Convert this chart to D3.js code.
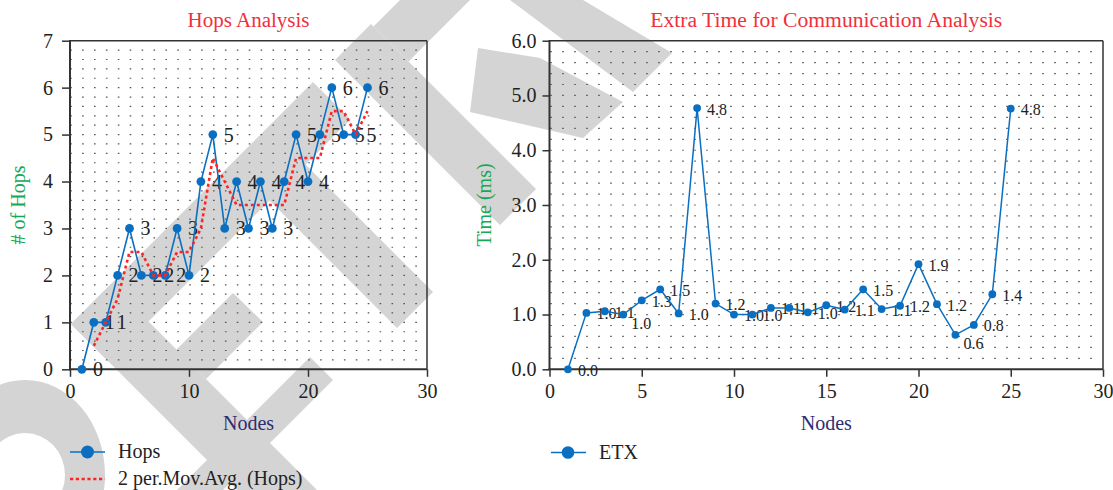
<!DOCTYPE html>
<html>
<head>
<meta charset="utf-8">
<script src="https://cdn.jsdelivr.net/npm/d3@7"></script>
<style>
  body { margin: 0; background: #fff; }
  svg { display: block; font-family: "Liberation Serif", "Times New Roman", serif; }
</style>
</head>
<body>
<svg id="chart" width="1113" height="490"></svg>
<script>
// --- data ---
const nodes = [1, 2, 3, 4, 5, 6, 7, 8, 9, 10, 11, 12, 13, 14, 15, 16, 17, 18, 19, 20, 21, 22, 23, 24, 25];
const hops = [0, 1, 1, 2, 3, 2, 2, 2, 3, 2, 4, 5, 3, 4, 3, 4, 3, 4, 5, 4, 5, 6, 5, 5, 6];
const movAvgNodes = [2, 3, 4, 5, 6, 7, 8, 9, 10, 11, 12, 13, 14, 15, 16, 17, 18, 19, 20, 21, 22, 23, 24, 25];
const movAvg = [0.5, 1, 1.5, 2.5, 2.5, 2, 2, 2.5, 2.5, 3, 4.5, 4, 3.5, 3.5, 3.5, 3.5, 3.5, 4.5, 4.5, 4.5, 5.5, 5.5, 5, 5.5];
const etx = [0.0, 1.03, 1.06, 1.0, 1.26, 1.46, 1.02, 4.77, 1.2, 1.0, 1.0, 1.12, 1.12, 1.04, 1.17, 1.09, 1.46, 1.1, 1.16, 1.92, 1.19, 0.63, 0.81, 1.37, 4.76];
const etxLabelsBelow = [4, 22]; // nodes whose value label sits under the point

const hopsXTicks = [0, 10, 20, 30];
const hopsYTicks = [0, 1, 2, 3, 4, 5, 6, 7];
const etxXTicks = [0, 5, 10, 15, 20, 25, 30];
const etxYTicks = [0, 1, 2, 3, 4, 5, 6];

const CONFIG = {
  blue: "#0b6fc1",
  red: "#ff2424",
  titleColor: "#f0303c",
  yLabelColor: "#15a957",
  xLabelColor: "#2e2d72",
  axisColor: "#333",
  dotColor: "#555",
  wmColor: "#d4d4d4",
  top: 40.7,
  bottom: 369.3
};

const svg = d3.select("#chart");

// --- watermark in the background ---
// strokes are 45deg bands, given in rotated coords u = x + y, v = x - y
function band(u0, u1, v0, v1) {
  const pt = (u, v) => [(u + v) / 2, (u - v) / 2];
  return [pt(u0, v0), pt(u1, v0), pt(u1, v1), pt(u0, v1)];
}

function drawWatermark(g) {
  const polys = [
    band(395, 470, -253, 231),
    band(400, 470, 347, 700),
    band(395, 830, -253, -173),
    band(420, 725, 69, 141),
    band(395, 725, 275, 347),
    [[233, 293], [263, 322], [206, 379], [176, 350]],
    [[310, 357], [333, 380], [223, 490], [177, 490]],
    [[510, 0], [583, 0], [672, 53], [633, 92]],
    [[478, 48], [540, 58], [623, 102], [583, 138], [470, 112]]
  ];
  g.selectAll("polygon")
    .data(polys)
    .join("polygon")
    .attr("points", d => d.map(p => p.join(",")).join(" "))
    .attr("fill", CONFIG.wmColor);
  // curved piece at the bottom left
  g.append("path")
    .attr("d", "M -55,475 a 80,95 0 1,0 160,0 a 80,95 0 1,0 -160,0 Z M -15,475 a 40,42 0 1,1 80,0 a 40,42 0 1,1 -80,0 Z")
    .attr("fill-rule", "evenodd")
    .attr("fill", CONFIG.wmColor);
}

function styleAxis(g, size) {
  g.select(".domain").remove();
  g.selectAll(".tick line").attr("stroke", CONFIG.axisColor).attr("stroke-width", 1.5);
  g.selectAll(".tick text")
    .attr("fill", "#222")
    .style("font-family", "'Liberation Serif', serif")
    .style("font-size", size + "px");
}

/**
 * draws frame, dotted grid, axes and titles of one panel
 */
function setupPanel(p) {
  const x = d3.scaleLinear().domain([0, 30]).range([p.left, p.right]);
  const y = d3.scaleLinear().domain([0, p.yMax]).range([CONFIG.bottom, CONFIG.top]);
  const g = svg.append("g");

  // dotted minor grid (horizontal dotted lines every 0.2)
  const rows = d3.range(1, p.yMax * 5).map(i => i * 0.2);
  g.append("g")
    .selectAll("line")
    .data(rows)
    .join("line")
    .attr("x1", p.dotStart)
    .attr("x2", p.right - 2)
    .attr("y1", d => y(d))
    .attr("y2", d => y(d))
    .attr("stroke", CONFIG.dotColor)
    .attr("stroke-width", 1.2)
    .attr("stroke-dasharray", `1.6 ${p.dotStep - 1.6}`);

  g.append("g")
    .attr("transform", `translate(${p.left},0)`)
    .call(d3.axisLeft(y).tickValues(p.yTicks).tickSize(p.yTickSize).tickPadding(p.yPad).tickFormat(p.yFormat))
    .call(styleAxis, 20);
  g.append("g")
    .attr("transform", `translate(0,${CONFIG.bottom})`)
    .call(d3.axisBottom(x).tickValues(p.xTicks).tickSize(7.5).tickPadding(7))
    .call(styleAxis, 20);

  // frame
  g.append("line").attr("x1", p.left).attr("x2", p.right).attr("y1", CONFIG.top).attr("y2", CONFIG.top)
    .attr("stroke", CONFIG.axisColor).attr("stroke-width", 1.5);
  g.append("line").attr("x1", p.right).attr("x2", p.right).attr("y1", CONFIG.top).attr("y2", CONFIG.bottom)
    .attr("stroke", CONFIG.axisColor).attr("stroke-width", 1.5);
  g.append("line").attr("x1", p.left).attr("x2", p.left).attr("y1", CONFIG.top - 0.7).attr("y2", CONFIG.bottom + 1)
    .attr("stroke", CONFIG.axisColor).attr("stroke-width", 2);
  g.append("line").attr("x1", p.left - 1).attr("x2", p.right).attr("y1", CONFIG.bottom).attr("y2", CONFIG.bottom)
    .attr("stroke", CONFIG.axisColor).attr("stroke-width", 2);

  const cx = (p.left + p.right) / 2;
  g.append("text").attr("x", cx).attr("y", 26.5).attr("text-anchor", "middle")
    .attr("fill", CONFIG.titleColor).style("font-size", "20px")
    .attr("textLength", p.titleWidth).attr("lengthAdjust", "spacingAndGlyphs")
    .text(p.title);
  g.append("text").attr("x", cx).attr("y", 430).attr("text-anchor", "middle")
    .attr("fill", CONFIG.xLabelColor).style("font-size", "20px")
    .text("Nodes");
  g.append("text")
    .attr("transform", `translate(${p.yLabelX},${(CONFIG.top + CONFIG.bottom) / 2}) rotate(-90)`)
    .attr("text-anchor", "middle")
    .attr("fill", CONFIG.yLabelColor).style("font-size", "20px")
    .text(p.yLabel);

  return { g, x, y };
}

function drawHops() {
  const { g, x, y } = setupPanel({
    left: 70, right: 427, yMax: 7, yTicks: hopsYTicks, xTicks: hopsXTicks,
    yTickSize: 8, yPad: 9, yFormat: d3.format("d"), dotStart: 70.2, dotStep: 11.9,
    title: "Hops Analysis", titleWidth: 122, yLabel: "# of Hops", yLabelX: 25
  });

  const pts = nodes.map((n, i) => ({ n, v: hops[i] }));
  const avg = movAvgNodes.map((n, i) => ({ n, v: movAvg[i] }));

  g.append("g")
    .selectAll("text")
    .data(pts)
    .join("text")
    .attr("x", d => x(d.n) + 11)
    .attr("y", d => y(d.v) + 7)
    .attr("fill", "#222")
    .style("font-size", "20px")
    .text(d => d.v);

  const line = d3.line().x(d => x(d.n)).y(d => y(d.v));
  g.append("path").attr("d", line(pts)).attr("fill", "none")
    .attr("stroke", CONFIG.blue).attr("stroke-width", 1.6);
  g.append("g")
    .selectAll("circle")
    .data(pts)
    .join("circle")
    .attr("cx", d => x(d.n))
    .attr("cy", d => y(d.v))
    .attr("r", 4.4)
    .attr("fill", CONFIG.blue);
  g.append("path").attr("d", line(avg)).attr("fill", "none")
    .attr("stroke", CONFIG.red).attr("stroke-width", 2.6).attr("stroke-dasharray", "3 3");

  // legend
  const lg = svg.append("g");
  lg.append("line").attr("x1", 70).attr("x2", 105).attr("y1", 452).attr("y2", 452)
    .attr("stroke", CONFIG.blue).attr("stroke-width", 1.6);
  lg.append("circle").attr("cx", 87.5).attr("cy", 452).attr("r", 6.5).attr("fill", CONFIG.blue);
  lg.append("text").attr("x", 118).attr("y", 458).style("font-size", "20px").attr("fill", "#222").text("Hops");
  lg.append("line").attr("x1", 70).attr("x2", 105).attr("y1", 479).attr("y2", 479)
    .attr("stroke", CONFIG.red).attr("stroke-width", 2.6).attr("stroke-dasharray", "3.2 2.6");
  lg.append("text").attr("x", 118).attr("y", 485).style("font-size", "20px").attr("fill", "#222")
    .text("2 per.Mov.Avg. (Hops)");
}

function drawEtx() {
  const { g, x, y } = setupPanel({
    left: 549.5, right: 1103, yMax: 6, yTicks: etxYTicks, xTicks: etxXTicks,
    yTickSize: 7, yPad: 6, yFormat: d3.format(".1f"), dotStart: 550.2, dotStep: 12,
    title: "Extra Time for Communication Analysis", titleWidth: 352, yLabel: "Time (ms)", yLabelX: 491
  });

  const pts = nodes.map((n, i) => ({ n, v: etx[i], below: etxLabelsBelow.includes(n) }));

  g.append("g")
    .selectAll("text")
    .data(pts)
    .join("text")
    .attr("x", d => x(d.n) + (d.below ? 8 : 10))
    .attr("y", d => y(d.v) + (d.below ? 14 : 6.5))
    .attr("fill", "#222")
    .style("font-size", "16px")
    .text(d => d3.format(".1f")(d.v));

  const line = d3.line().x(d => x(d.n)).y(d => y(d.v));
  g.append("path").attr("d", line(pts)).attr("fill", "none")
    .attr("stroke", CONFIG.blue).attr("stroke-width", 1.5);
  g.append("g")
    .selectAll("circle")
    .data(pts)
    .join("circle")
    .attr("cx", d => x(d.n))
    .attr("cy", d => y(d.v))
    .attr("r", 3.9)
    .attr("fill", CONFIG.blue);

  const lg = svg.append("g");
  lg.append("line").attr("x1", 551).attr("x2", 586).attr("y1", 452.5).attr("y2", 452.5)
    .attr("stroke", CONFIG.blue).attr("stroke-width", 1.6);
  lg.append("circle").attr("cx", 568).attr("cy", 452.5).attr("r", 6.3).attr("fill", CONFIG.blue);
  lg.append("text").attr("x", 599).attr("y", 459).style("font-size", "20px").attr("fill", "#222").text("ETX");
}

drawWatermark(svg.append("g"));
drawHops();
drawEtx();
</script>
</body>
</html>
